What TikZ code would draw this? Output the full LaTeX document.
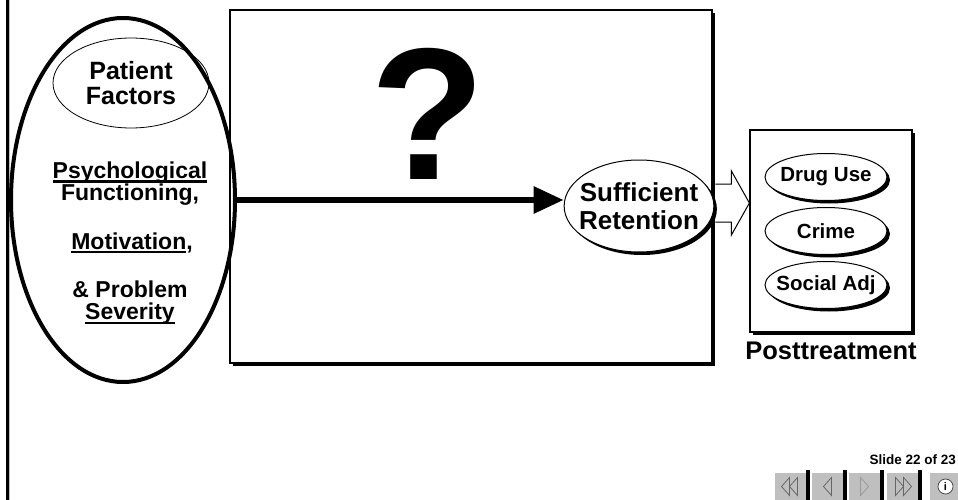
\documentclass[tikz,border=0pt]{standalone}
\usepackage{fontspec}
\setmainfont{Liberation Sans}
\usetikzlibrary{shapes,arrows.meta,positioning,shadows}
\newcommand{\undl}[1]{\setbox0\hbox{#1}\rlap{\rule[-4pt]{\wd0}{2.4pt}}\box0}
\tikzstyle{castshadow} = [drop shadow={shadow xshift=3pt, shadow yshift=-3pt, opacity=1, fill=black}]
\tikzstyle{bigbox} = [rectangle, draw, fill=white, line width=1.2pt, castshadow]
\tikzstyle{oval} = [ellipse, draw, fill=white, line width=1pt, inner xsep=-7pt, inner ysep=0pt, castshadow,
    align=center, font=\fontsize{26}{28}\selectfont\bfseries]
\tikzstyle{outcome} = [ellipse, draw, fill=white, line width=1pt, inner xsep=-9pt, inner ysep=0pt, castshadow,
    minimum width=122pt, minimum height=47pt, font=\fontsize{20.5}{22}\selectfont\bfseries]
\tikzstyle{factortext} = [align=center, inner sep=0pt, font=\fontsize{23}{22}\selectfont\bfseries]
\tikzstyle{line} = [draw, line width=6pt, -{Triangle[length=30pt,width=26pt]}]
\tikzstyle{hollow} = [draw, line width=1pt, line join=miter]
\tikzstyle{navbtn} = [rectangle, fill=black!25, inner sep=0pt, minimum width=31pt, minimum height=27pt]
\tikzstyle{navicon} = [draw=black!60, line width=0.8pt, line join=miter]

\begin{document}
\begin{tikzpicture}[x=1pt, y=-1pt, node distance=6pt]
    \useasboundingbox (0,0) rectangle (958,500);
    \draw[line width=3pt] (7.5,0) -- (7.5,500);
    \draw[black!25, line width=1pt] (9.5,0) -- (9.5,500);
    % Place nodes
    \node [bigbox, minimum width=482pt, minimum height=353pt] (middle) at (471,186.5) {};
    \node [ellipse, draw, line width=4pt, minimum width=224pt, minimum height=364pt, inner sep=0pt] (factors) at (123,200) {};
    \node [ellipse, draw, line width=0.8pt, minimum width=156pt, minimum height=90pt, inner sep=0pt,
        align=center, font=\fontsize{25}{25}\selectfont\bfseries] (patient) at (131,83) {Patient\\Factors};
    \node [factortext] (psych) at (130,184) {\undl{Psychological}\\Functioning,};
    \node [factortext] (motiv) at (132,243) {\undl{Motivation},};
    \node [factortext] (severity) at (130,303) {\& Problem\\\undl{Severity}};
    \node [inner sep=0pt, font=\fontsize{188}{188}\selectfont\bfseries] (question) at (428,113.5) {?};
    \node [oval, minimum width=148pt, minimum height=92pt] (retention) at (639,206) {Sufficient\\Retention};
    \node [bigbox, minimum width=162pt, minimum height=202pt] (post) at (831,231) {};
    \node [outcome] (crime) at (826,231) {Crime};
    \node [outcome, above=of crime] (druguse) {Drug Use};
    \node [outcome, below=of crime] (social) {Social Adj};
    \node [below=9pt of post, inner sep=0pt, font=\fontsize{25.5}{26}\selectfont\bfseries] (posttext) {Posttreatment};
    \coordinate (tip) at ([yshift=3pt]post.west |- retention.east);
    % Draw edges
    \path [line] (factors.east) -- (factors.east -| retention.west);
    \path [hollow] (tip) ++(-34,-19) -- ++(16,0) -- ++(0,-13) -- (tip) -- ++(-18,32) -- ++(0,-13) -- ++(-16,0);
    % Slide navigation
    \node [anchor=east, inner sep=0pt, font=\fontsize{13.5}{14}\selectfont\bfseries] (slideno) at (956,460) {Slide 22 of 23};
    \foreach \bx/\bn in {775/1, 812/2, 849/3, 887/4, 930/5}
        \node [navbtn] (btn\bn) at (\bx+15.5,486.5) {};
    \foreach \bn in {1,...,4}
        \fill (btn\bn.north east) ++(0,-3) rectangle ++(4,30);
    \draw [navicon] (btn1.center) ++(-9,0) -- ++(8,-9) -- ++(0,18) -- cycle;
    \draw [navicon] (btn1.center) ++(-1,0) -- ++(8,-9) -- ++(0,18) -- cycle;
    \draw [navicon] (btn2.center) ++(-4,0) -- ++(8,-9) -- ++(0,18) -- cycle;
    \draw [navicon, draw=black!40] (btn3.center) ++(4,0) -- ++(-8,-9) -- ++(0,18) -- cycle;
    \draw [navicon] (btn4.center) ++(1,0) -- ++(-8,-9) -- ++(0,18) -- cycle;
    \draw [navicon] (btn4.center) ++(9,0) -- ++(-8,-9) -- ++(0,18) -- cycle;
    \node [circle, draw=black!70, fill=white, line width=0.8pt, inner sep=0pt, minimum size=15pt,
        font=\fontsize{11}{11}\selectfont\bfseries] (info) at (btn5.center) {i};
\end{tikzpicture}
\end{document}
